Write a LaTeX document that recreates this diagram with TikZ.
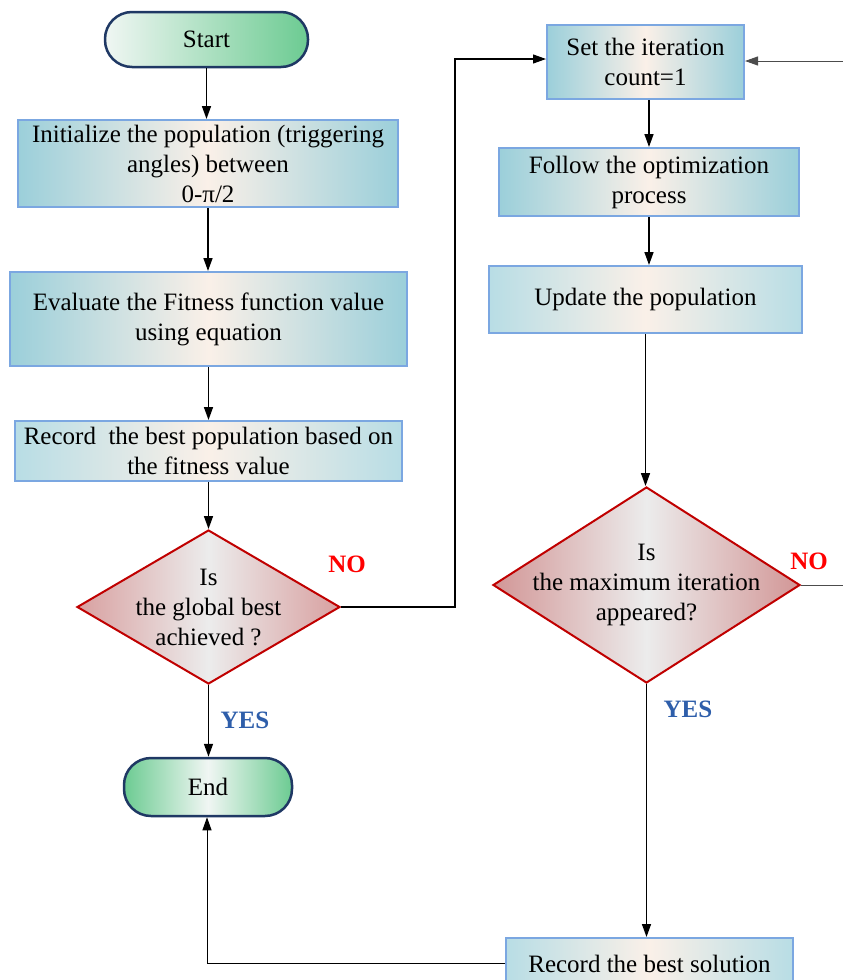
\documentclass[tikz,border=0pt]{standalone}
\usepackage{fontspec}
\setmainfont{Liberation Serif}
\usetikzlibrary{arrows.meta,shapes.geometric,calc}
\definecolor{tealA}{RGB}{155,207,218}
\definecolor{tealB}{RGB}{184,221,229}
\definecolor{peach}{RGB}{250,240,232}
\definecolor{boxborder}{RGB}{123,167,225}
\definecolor{rosy}{RGB}{216,160,160}
\definecolor{rosyD}{RGB}{210,150,150}
\definecolor{lgray}{RGB}{236,236,236}
\definecolor{decborder}{RGB}{192,0,0}
\definecolor{mint}{RGB}{108,203,146}
\definecolor{mintW}{RGB}{240,246,243}
\definecolor{navy}{RGB}{31,56,100}
\definecolor{yesblue}{RGB}{46,94,170}
\definecolor{nored}{RGB}{255,0,0}
\begin{document}
\begin{tikzpicture}[x=1pt,y=-1pt,
  txt/.style={align=center,inner sep=0pt,font=\fontsize{25}{30}\selectfont},
  procbox/.style={draw=boxborder,line width=2pt,left color=#1,right color=#1,middle color=peach,inner sep=0pt,align=center,font=\fontsize{25}{30}\selectfont},
  procbox/.default=tealA,
  decbox/.style={diamond,draw=decborder,line width=2pt,left color=#1,right color=#1,middle color=lgray,inner sep=0pt},
  decbox/.default=rosy,
  termbox/.style={draw=navy,line width=2.5pt,rounded corners=27pt,inner sep=0pt,font=\fontsize{25}{30}\selectfont},
  arr/.style={line width=1.5pt,-{Triangle[length=13pt,width=9pt]}},
  loopline/.style={line width=1.2pt,-{Triangle[length=13pt,width=9pt]}},
  lab/.style={font=\fontsize{25}{30}\selectfont\bfseries,inner sep=0pt}]
\useasboundingbox (0,0) rectangle (843,980);

% left column
\node[termbox,left color=mintW,right color=mint,minimum width=203pt,minimum height=55pt] (start) at (206.5,39.5) {Start};
\node[procbox,minimum width=380pt,minimum height=87pt] (init) at (208,163.5) {Initialize the population (triggering\\angles) between\\0-π/2};
\node[procbox,minimum width=397pt,minimum height=94pt] (eval) at (208.5,319) {Evaluate the Fitness function value\\using equation};
\node[procbox=tealB,minimum width=387pt,minimum height=60pt] (recpop) at (208.5,451) {Record\ \ the best population based on\\the fitness value};
\node[decbox,minimum width=263pt,minimum height=154pt] (d1) at (208.5,607) {};
\node[txt] (d1t) at (d1.center) {Is\\the global best\\achieved ?};
\node[termbox,left color=mint,right color=mint,middle color=mintW,minimum width=168pt,minimum height=58pt] (end) at (208,787) {End};

% right column
\node[procbox,minimum width=197pt,minimum height=74pt] (iter) at (645.5,62) {Set the iteration\\count=1};
\node[procbox,minimum width=300pt,minimum height=68pt] (follow) at (649,182) {Follow the optimization\\process};
\node[procbox=tealB,minimum width=313pt,minimum height=67pt] (upd) at (645.5,299.5) {Update the population};
\node[decbox=rosyD,minimum width=307pt,minimum height=196pt] (d2) at (646.5,585) {};
\node[txt] (d2t) at (d2.center) {Is\\the maximum iteration\\appeared?};
\node[procbox=tealB,minimum width=287pt,minimum height=52pt] (recsol) at (649.5,964) {Record the best solution};

% labels
\node[lab,text=nored] (no1) at (347,564) {NO};
\node[lab,text=nored] (no2) at (809,561) {NO};
\node[lab,text=yesblue] (yes1) at (245,720) {YES};
\node[lab,text=yesblue] (yes2) at (688,709) {YES};

% coordinates for loops
\coordinate (c1) at (455,59);
\coordinate (c2) at (846,61);
\coordinate (c3) at (207,963);

% connectors left
\draw[arr] (start.south) -- (start.south |- init.north);
\draw[arr] (init.south) -- (init.south |- eval.north);
\draw[arr] (eval.south) -- (eval.south |- recpop.north);
\draw[arr] (recpop.south) -- (recpop.south |- d1.north);
\draw[arr] (d1.south) -- (d1.south |- end.north);

% connectors right
\draw[arr] (iter.south) ++(3.5,0) coordinate (a1) -- (a1 |- follow.north);
\draw[arr] (follow.south) -- (follow.south |- upd.north);
\draw[arr] (upd.south) -- (upd.south |- d2.north);
\draw[arr] (d2.south) -- (d2.south |- recsol.north);

% loops
\draw[loopline] (d1.east) -| (c1) -- (c1 -| iter.west);
\draw[loopline,draw=black!70,line width=1pt] (d2.east) -| (c2) -- (c2 -| iter.east);
\draw[loopline,line width=1pt] (recsol.west |- c3) -- (c3) -- (c3 |- end.south);
\end{tikzpicture}
\end{document}
